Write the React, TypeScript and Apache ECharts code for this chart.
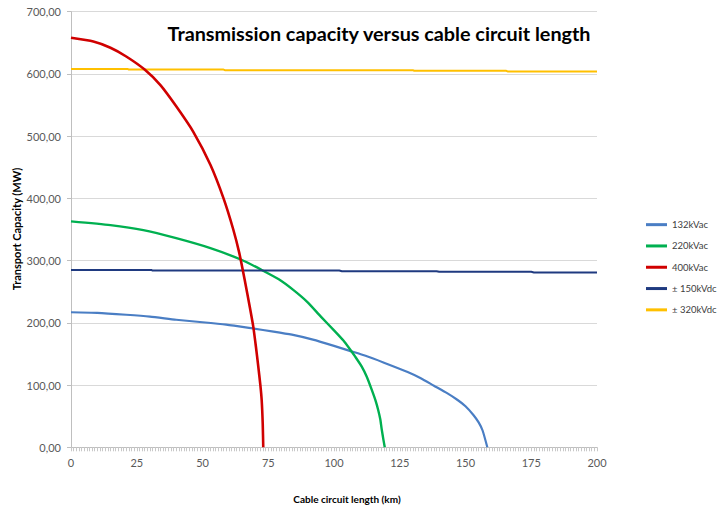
import React, { useEffect, useRef } from "react";
import * as echarts from "echarts";

const seriesNames = ["132kVac", "220kVac", "400kVac", "± 150kVdc", "± 320kVdc"];
const seriesColors = ["#4a7ec4", "#00b050", "#d00000", "#1f3a80", "#ffc000"];

const xTicks = [0, 25, 50, 75, 100, 125, 150, 175, 200];
const yTicks = [0, 100, 200, 300, 400, 500, 600, 700];

const km132 = [0, 10, 21, 30, 40, 50, 59, 69, 77, 84, 92, 100, 106, 112, 119, 128, 133, 138, 143, 147, 150, 153, 155, 156.5, 158.3];
const mw132 = [217, 216, 213, 210, 205, 201, 197, 191, 186, 181, 173, 163, 155, 147, 136, 121, 111, 99, 87, 76, 66, 52, 40, 27, 0];

const km220 = [0, 15, 27.5, 40, 53, 65, 72.5, 79, 84.5, 90, 95, 100, 103.5, 106, 108, 110.5, 112.5, 114.3, 115.8, 116.8, 117.6, 118.1, 118.8, 119.3];
const mw220 = [363, 357, 349, 336, 320, 301, 285, 270, 253, 233, 210, 188, 172, 158, 146, 130, 113, 93, 75, 60, 45, 30, 12, 0];

const km400 = [0, 8.5, 15, 21, 28, 34, 40, 46.5, 53, 58, 61.7, 64, 66, 68, 69.3, 70.3, 71.2, 72, 72.5, 72.9, 73.1];
const mw400 = [658, 652, 642, 628, 607, 582, 548, 507, 454, 400, 350, 312, 270, 225, 194, 162, 130, 100, 76, 38, 0];

const km150 = [0, 30.5, 31, 102, 103, 139, 140, 175, 176, 200];
const mw150 = [285, 285, 284, 284, 283, 283, 282, 282, 281, 281];

const km320 = [0, 21.5, 22, 58, 58.5, 130, 130.5, 165.5, 166, 200];
const mw320 = [608, 608, 607, 607, 606, 606, 605, 605, 604, 604];

const kmList = [km132, km220, km400, km150, km320];
const mwList = [mw132, mw220, mw400, mw150, mw320];
const widths = [2.2, 2.4, 2.6, 2, 2];

const fmt = (v: number) => v.toFixed(2).replace(".", ",");

export default function App() {
  const ref = useRef<HTMLDivElement>(null);
  useEffect(() => {
    if (!ref.current) return;
    const chart = echarts.init(ref.current, null, { renderer: "svg" });
    const font = "Lato, 'Open Sans', sans-serif";
    chart.setOption({
      animation: false,
      backgroundColor: "#ffffff",
      textStyle: { fontFamily: font },
      grid: { left: 71, right: 124, top: 11.7, bottom: 60.7, containLabel: false },
      xAxis: {
        type: "value",
        min: xTicks[0],
        max: xTicks[xTicks.length - 1],
        interval: 25,
        axisLine: { show: true, lineStyle: { color: "#bfbfbf", width: 1 } },
        axisTick: { show: true, length: 4, lineStyle: { color: "#c8c8c8" } },
        minorTick: { show: true, splitNumber: 25, length: 4, lineStyle: { color: "#c8c8c8" } },
        splitLine: { show: false },
        axisLabel: { color: "#595959", fontSize: 11, margin: 10, fontFamily: font },
      },
      yAxis: {
        type: "value",
        min: yTicks[0],
        max: yTicks[yTicks.length - 1],
        interval: 100,
        axisLine: { show: true, lineStyle: { color: "#bfbfbf", width: 1 } },
        axisTick: { show: true, length: 4, lineStyle: { color: "#bfbfbf" } },
        splitLine: { show: true, lineStyle: { color: "#d9d9d9", width: 1 } },
        axisLabel: { color: "#595959", fontSize: 11, margin: 10, fontFamily: font, formatter: (v: number) => fmt(v) },
      },
      legend: {
        orient: "vertical",
        left: 641,
        top: 213,
        icon: "rect",
        itemWidth: 21,
        itemHeight: 3,
        itemGap: 8,
        textStyle: { color: "#404040", fontSize: 9.5, lineHeight: 13.3, fontFamily: font },
        data: seriesNames,
      },
      graphic: [
        {
          type: "text",
          x: 379,
          y: 33,
          style: {
            text: "Transmission capacity versus cable circuit length",
            fill: "#000000",
            font: "bold 19.8px " + font,
            textAlign: "center",
            textVerticalAlign: "middle",
          },
        },
        {
          type: "text",
          x: 347,
          y: 499,
          style: {
            text: "Cable circuit length (km)",
            fill: "#000000",
            font: "bold 10px " + font,
            textAlign: "center",
            textVerticalAlign: "middle",
          },
        },
        {
          type: "text",
          x: 16,
          y: 229,
          rotation: Math.PI / 2,
          style: {
            text: "Transport Capacity (MW)",
            fill: "#000000",
            font: "bold 11px " + font,
            textAlign: "center",
            textVerticalAlign: "middle",
          },
        },
      ],
      series: seriesNames.map((name, i) => ({
        name,
        type: "line",
        data: kmList[i].map((k, j) => [k, mwList[i][j]]),
        symbol: "none",
        showSymbol: false,
        smooth: i < 3 ? 0.2 : false,
        color: seriesColors[i],
        lineStyle: { color: seriesColors[i], width: widths[i], join: "round" },
        z: i === 2 ? 3 : 2,
      })),
    });
    return () => chart.dispose();
  }, []);
  return <div ref={ref} style={{ width: 721, height: 508, position: "absolute", left: 0, top: 0 }} />;
}
